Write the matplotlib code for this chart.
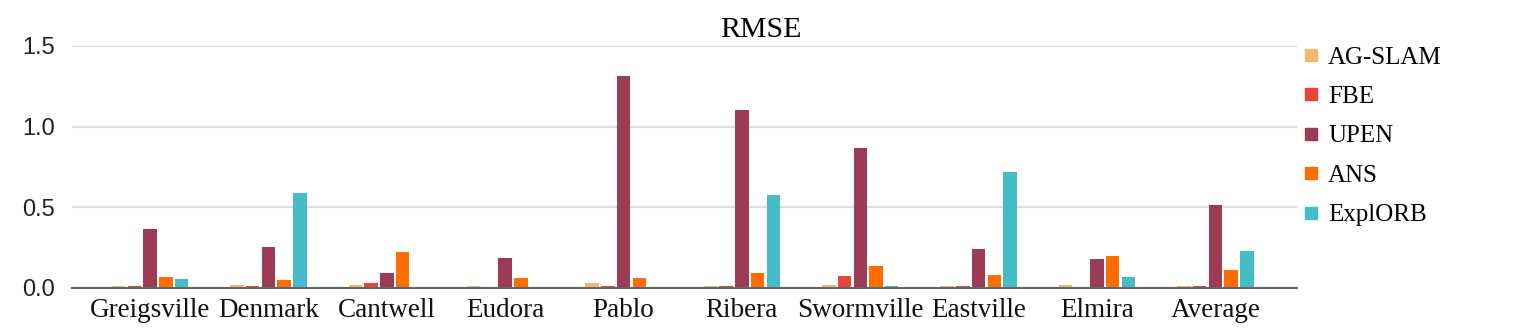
import numpy as np
import matplotlib.pyplot as plt
from matplotlib.lines import Line2D

# RMSE per environment
environments = ["Greigsville", "Denmark", "Cantwell", "Eudora", "Pablo",
                "Ribera", "Swormville", "Eastville", "Elmira", "Average"]
methods = ["AG-SLAM", "FBE", "UPEN", "ANS", "ExplORB"]

ag_slam = [0.012, 0.019, 0.020, 0.012, 0.031, 0.010, 0.020, 0.010, 0.020, 0.013]
fbe = [0.012, 0.010, 0.031, 0.0, 0.010, 0.010, 0.072, 0.010, 0.0, 0.013]
upen = [0.366, 0.254, 0.093, 0.186, 1.316, 1.105, 0.870, 0.242, 0.180, 0.512]
ans = [0.070, 0.050, 0.223, 0.062, 0.062, 0.093, 0.138, 0.078, 0.200, 0.109]
explorb = [0.058, 0.590, 0.008, 0.0, 0.008, 0.578, 0.012, 0.720, 0.068, 0.229]

series = [ag_slam, fbe, upen, ans, explorb]
colors = ["#F1B96E", "#E9453B", "#9C3B55", "#FF6D01", "#46BDC6"]

serif = ["Liberation Serif", "DejaVu Serif"]

fig = plt.figure(figsize=(15.22, 3.36), dpi=100)
ax = fig.add_axes([72 / 1522, 48 / 336, (1297 - 72) / 1522, (288 - 46) / 336])

x = np.arange(len(environments))
step = 0.133
width = 0.114
for i, (vals, col) in enumerate(zip(series, colors)):
    ax.bar(x + (i - 2) * step, vals, width, color=col, zorder=3)

ax.set_ylim(0, 1.5)
ax.set_xlim(-0.66, 9.69)
ax.set_yticks([0, 0.5, 1.0, 1.5])
ax.set_yticklabels(["0.0", "0.5", "1.0", "1.5"], family="Liberation Sans", fontsize=17, color="#222222")
ax.set_xticks(x)
ax.set_xticklabels(environments, family=serif, fontsize=19.5, color="#111111")
ax.tick_params(axis="both", length=0)
ax.tick_params(axis="y", pad=12)
ax.tick_params(axis="x", pad=7)
ax.yaxis.grid(True, color="#dddddd", linewidth=1.5, zorder=0)
for s in ["top", "right", "left"]:
    ax.spines[s].set_visible(False)
ax.spines["bottom"].set_color("#666666")
ax.spines["bottom"].set_linewidth(1.5)
ax.spines["bottom"].set_zorder(4)

fig.text(0.5, 1 - 30 / 336, "RMSE", ha="center", va="center", family=serif, fontsize=21.5)

handles = [Line2D([0], [0], marker="s", linestyle="none", markersize=9,
                  markerfacecolor=c, markeredgecolor=c) for c in colors]
fig.legend(handles, methods, loc="upper left", bbox_to_anchor=(1293 / 1522, 1 - 36 / 336),
           frameon=False, prop={"family": serif, "size": 18}, handlelength=0.6,
           handletextpad=0.4, labelspacing=0.68, borderaxespad=0)

fig.savefig("out.png", dpi=100)
